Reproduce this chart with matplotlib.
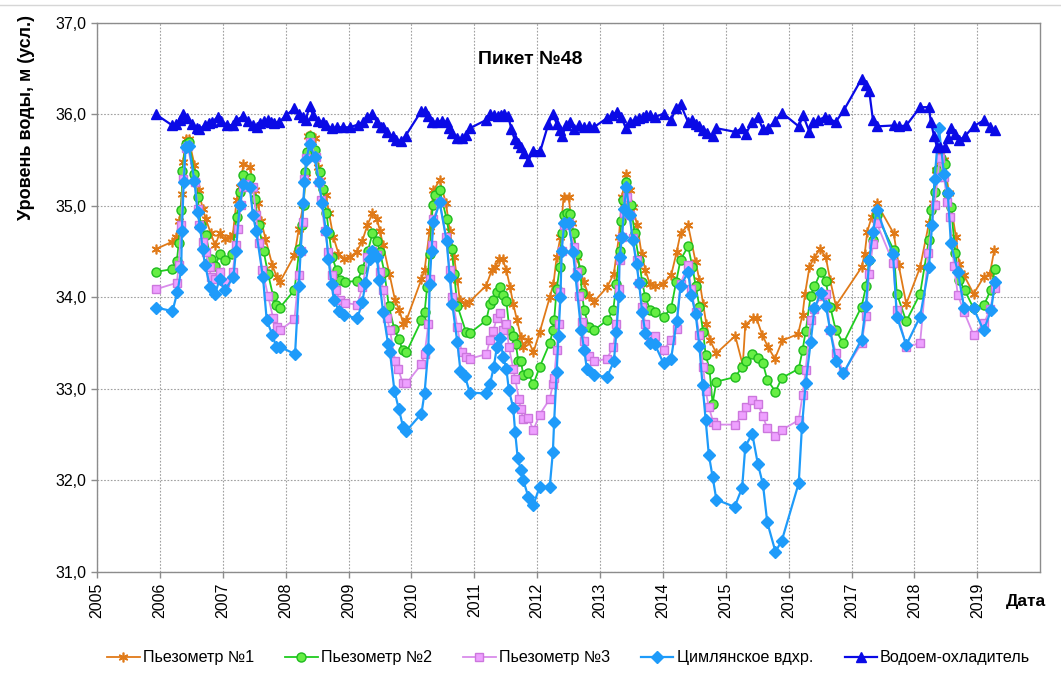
import numpy as np
import matplotlib.pyplot as plt
from matplotlib.lines import Line2D

plt.rcParams['font.family'] = ['Liberation Sans', 'DejaVu Sans']

# Пьезометр №1
t_p1 = [2005.94, 2006.20, 2006.26, 2006.31, 2006.35, 2006.37, 2006.41, 2006.46, 2006.55, 2006.62,
        2006.68, 2006.73, 2006.81, 2006.88, 2006.95, 2007.03, 2007.11, 2007.16, 2007.22, 2007.27,
        2007.33, 2007.43, 2007.51, 2007.56, 2007.61, 2007.68, 2007.79, 2007.86, 2007.91, 2008.14,
        2008.21, 2008.28, 2008.32, 2008.36, 2008.39, 2008.46, 2008.51, 2008.57, 2008.64, 2008.69,
        2008.76, 2008.84, 2008.93, 2009.02, 2009.13, 2009.22, 2009.30, 2009.38, 2009.45, 2009.50,
        2009.55, 2009.65, 2009.74, 2009.81, 2009.87, 2009.92, 2010.16, 2010.21, 2010.29, 2010.35,
        2010.45, 2010.55, 2010.61, 2010.68, 2010.73, 2010.77, 2010.85, 2010.92, 2011.19, 2011.28,
        2011.33, 2011.40, 2011.45, 2011.51, 2011.57, 2011.62, 2011.68, 2011.74, 2011.78, 2011.86,
        2011.94, 2012.04, 2012.20, 2012.26, 2012.31, 2012.37, 2012.42, 2012.50, 2012.55, 2012.63,
        2012.74, 2012.82, 2012.90, 2013.11, 2013.22, 2013.30, 2013.35, 2013.41, 2013.47, 2013.52,
        2013.59, 2013.66, 2013.72, 2013.79, 2013.87, 2014.00, 2014.13, 2014.22, 2014.28, 2014.40,
        2014.52, 2014.58, 2014.64, 2014.69, 2014.75, 2014.85, 2015.15, 2015.27, 2015.31, 2015.43,
        2015.49, 2015.58, 2015.67, 2015.78, 2015.90, 2016.15, 2016.22, 2016.26, 2016.33, 2016.40,
        2016.50, 2016.59, 2016.66, 2016.75, 2017.16, 2017.21, 2017.25, 2017.32, 2017.40, 2017.67,
        2017.75, 2017.87, 2018.09, 2018.23, 2018.29, 2018.34, 2018.40, 2018.47, 2018.55, 2018.66,
        2018.71, 2018.79, 2018.94, 2019.10, 2019.20, 2019.27]
h_p1 = [34.53, 34.61, 34.66, 34.84, 35.13, 35.48, 35.73, 35.73, 35.45, 35.17,
        34.97, 34.86, 34.70, 34.57, 34.70, 34.64, 34.66, 34.68, 35.06, 35.21,
        35.46, 35.43, 35.17, 35.03, 34.84, 34.64, 34.35, 34.22, 34.17, 34.46,
        34.75, 35.01, 35.32, 35.76, 35.78, 35.74, 35.43, 35.28, 35.12, 34.92,
        34.66, 34.48, 34.42, 34.44, 34.50, 34.62, 34.79, 34.92, 34.86, 34.73,
        34.57, 34.26, 33.97, 33.86, 33.71, 33.75, 34.20, 34.30, 34.73, 35.17,
        35.28, 35.03, 34.73, 34.44, 34.19, 33.97, 33.93, 33.95, 34.13, 34.30,
        34.33, 34.42, 34.42, 34.30, 34.11, 33.93, 33.75, 33.57, 33.46, 33.53,
        33.40, 33.62, 34.00, 34.15, 34.44, 34.66, 35.10, 35.10, 34.81, 34.44,
        34.17, 34.02, 33.95, 34.11, 34.26, 34.66, 35.10, 35.35, 35.17, 34.99,
        34.79, 34.48, 34.30, 34.15, 34.13, 34.15, 34.24, 34.50, 34.70, 34.79,
        34.39, 34.19, 33.93, 33.71, 33.53, 33.39, 33.58, 33.26, 33.70, 33.77,
        33.77, 33.59, 33.46, 33.33, 33.53, 33.60, 33.81, 34.04, 34.33, 34.43,
        34.53, 34.44, 34.19, 33.91, 34.33, 34.48, 34.72, 34.88, 35.03, 34.70,
        34.35, 33.93, 34.33, 34.81, 35.03, 35.39, 35.61, 35.50, 35.14, 34.66,
        34.37, 34.24, 34.04, 34.22, 34.26, 34.52]

# Пьезометр №2
t_p2 = [2005.94, 2006.20, 2006.27, 2006.30, 2006.34, 2006.36, 2006.41, 2006.46, 2006.55, 2006.60,
        2006.65, 2006.73, 2006.81, 2006.88, 2006.95, 2007.03, 2007.15, 2007.22, 2007.28, 2007.33,
        2007.43, 2007.51, 2007.57, 2007.65, 2007.72, 2007.80, 2007.85, 2007.91, 2008.14, 2008.22,
        2008.26, 2008.29, 2008.31, 2008.34, 2008.38, 2008.46, 2008.54, 2008.59, 2008.65, 2008.69,
        2008.74, 2008.81, 2008.86, 2008.94, 2009.14, 2009.22, 2009.31, 2009.38, 2009.45, 2009.50,
        2009.57, 2009.64, 2009.73, 2009.80, 2009.86, 2009.92, 2010.16, 2010.21, 2010.25, 2010.29,
        2010.34, 2010.37, 2010.45, 2010.56, 2010.64, 2010.68, 2010.73, 2010.87, 2010.93, 2011.19,
        2011.25, 2011.30, 2011.36, 2011.41, 2011.46, 2011.51, 2011.56, 2011.61, 2011.66, 2011.70,
        2011.74, 2011.78, 2011.86, 2011.94, 2012.04, 2012.20, 2012.25, 2012.27, 2012.31, 2012.36,
        2012.39, 2012.42, 2012.47, 2012.52, 2012.58, 2012.63, 2012.69, 2012.71, 2012.75, 2012.82,
        2012.90, 2013.11, 2013.21, 2013.26, 2013.31, 2013.34, 2013.37, 2013.42, 2013.49, 2013.55,
        2013.62, 2013.67, 2013.72, 2013.80, 2013.87, 2014.01, 2014.13, 2014.21, 2014.28, 2014.40,
        2014.47, 2014.52, 2014.58, 2014.64, 2014.68, 2014.74, 2014.79, 2014.85, 2015.15, 2015.26,
        2015.32, 2015.42, 2015.51, 2015.59, 2015.66, 2015.79, 2015.89, 2016.16, 2016.22, 2016.27,
        2016.35, 2016.41, 2016.51, 2016.59, 2016.66, 2016.75, 2016.87, 2017.16, 2017.23, 2017.28,
        2017.34, 2017.40, 2017.67, 2017.72, 2017.87, 2018.09, 2018.23, 2018.26, 2018.32, 2018.36,
        2018.42, 2018.49, 2018.52, 2018.58, 2018.65, 2018.71, 2018.80, 2018.94, 2019.11, 2019.21,
        2019.28]
h_p2 = [34.28, 34.31, 34.40, 34.59, 34.96, 35.38, 35.68, 35.70, 35.35, 35.10,
        34.79, 34.68, 34.42, 34.34, 34.47, 34.41, 34.48, 34.88, 35.15, 35.34,
        35.31, 35.08, 34.79, 34.51, 34.26, 34.02, 33.92, 33.89, 34.08, 34.53,
        34.79, 35.01, 35.37, 35.59, 35.76, 35.61, 35.37, 35.19, 34.92, 34.70,
        34.44, 34.30, 34.19, 34.17, 34.18, 34.31, 34.51, 34.70, 34.62, 34.50,
        34.28, 33.91, 33.65, 33.55, 33.42, 33.40, 33.75, 33.84, 34.11, 34.48,
        35.01, 35.12, 35.17, 34.86, 34.53, 34.26, 33.91, 33.62, 33.61, 33.75,
        33.93, 33.97, 34.06, 34.11, 34.03, 33.96, 33.64, 33.58, 33.49, 33.31,
        33.31, 33.15, 33.17, 33.05, 33.24, 33.50, 33.64, 33.75, 34.09, 34.33,
        34.70, 34.90, 34.92, 34.91, 34.70, 34.48, 34.30, 34.05, 33.86, 33.68,
        33.64, 33.75, 33.86, 34.15, 34.51, 34.84, 35.06, 35.26, 35.01, 34.70,
        34.41, 34.17, 34.00, 33.86, 33.84, 33.79, 33.88, 34.17, 34.41, 34.56,
        34.33, 34.13, 33.90, 33.62, 33.37, 33.22, 32.84, 33.08, 33.13, 33.24,
        33.31, 33.38, 33.34, 33.28, 33.10, 32.97, 33.12, 33.22, 33.42, 33.63,
        34.02, 34.12, 34.28, 34.18, 33.90, 33.64, 33.50, 33.90, 34.12, 34.41,
        34.63, 34.90, 34.52, 34.04, 33.74, 34.04, 34.63, 34.96, 35.15, 35.39,
        35.52, 35.46, 35.14, 34.99, 34.49, 34.19, 34.08, 33.88, 33.92, 34.08,
        34.31]

# Пьезометр №3
t_p3 = [2005.94, 2006.27, 2006.30, 2006.34, 2006.37, 2006.41, 2006.44, 2006.56, 2006.60, 2006.63,
        2006.69, 2006.73, 2006.79, 2006.81, 2006.88, 2006.95, 2007.04, 2007.16, 2007.21, 2007.24,
        2007.29, 2007.32, 2007.36, 2007.48, 2007.53, 2007.57, 2007.63, 2007.72, 2007.80, 2007.86,
        2007.91, 2008.14, 2008.21, 2008.24, 2008.27, 2008.30, 2008.33, 2008.38, 2008.48, 2008.53,
        2008.57, 2008.62, 2008.68, 2008.73, 2008.80, 2008.86, 2008.95, 2009.14, 2009.22, 2009.30,
        2009.38, 2009.45, 2009.50, 2009.55, 2009.61, 2009.66, 2009.74, 2009.79, 2009.86, 2009.92,
        2010.16, 2010.21, 2010.27, 2010.29, 2010.32, 2010.35, 2010.45, 2010.55, 2010.61, 2010.65,
        2010.73, 2010.80, 2010.87, 2010.93, 2011.19, 2011.25, 2011.30, 2011.36, 2011.41, 2011.46,
        2011.51, 2011.55, 2011.62, 2011.65, 2011.71, 2011.74, 2011.78, 2011.86, 2011.94, 2012.04,
        2012.20, 2012.25, 2012.27, 2012.31, 2012.34, 2012.37, 2012.39, 2012.42, 2012.50, 2012.58,
        2012.63, 2012.66, 2012.71, 2012.75, 2012.82, 2012.90, 2013.11, 2013.21, 2013.26, 2013.30,
        2013.31, 2013.35, 2013.38, 2013.43, 2013.47, 2013.52, 2013.58, 2013.62, 2013.67, 2013.72,
        2013.80, 2013.87, 2014.01, 2014.13, 2014.22, 2014.28, 2014.40, 2014.45, 2014.52, 2014.58,
        2014.64, 2014.68, 2014.73, 2014.80, 2014.85, 2015.15, 2015.26, 2015.32, 2015.42, 2015.51,
        2015.59, 2015.66, 2015.79, 2015.89, 2016.16, 2016.22, 2016.27, 2016.35, 2016.41, 2016.51,
        2016.59, 2016.66, 2016.75, 2016.87, 2017.16, 2017.23, 2017.28, 2017.34, 2017.40, 2017.66,
        2017.72, 2017.87, 2018.09, 2018.22, 2018.32, 2018.37, 2018.40, 2018.47, 2018.52, 2018.56,
        2018.63, 2018.69, 2018.79, 2018.94, 2019.11, 2019.20, 2019.28]
h_p3 = [34.09, 34.16, 34.35, 34.79, 35.30, 35.63, 35.66, 35.26, 34.97, 34.79,
        34.61, 34.50, 34.33, 34.22, 34.20, 34.28, 34.17, 34.28, 34.57, 34.75,
        35.01, 35.21, 35.24, 35.21, 34.90, 34.59, 34.30, 34.02, 33.78, 33.68,
        33.64, 33.76, 34.25, 34.51, 34.82, 35.30, 35.52, 35.70, 35.54, 35.26,
        35.06, 34.73, 34.50, 34.24, 34.08, 33.97, 33.94, 33.92, 34.11, 34.44,
        34.51, 34.46, 34.28, 34.08, 33.78, 33.64, 33.31, 33.22, 33.07, 33.06,
        33.27, 33.38, 33.71, 34.20, 34.57, 34.86, 35.04, 34.66, 34.30, 34.00,
        33.68, 33.40, 33.35, 33.33, 33.38, 33.53, 33.63, 33.78, 33.83, 33.64,
        33.71, 33.46, 33.22, 33.11, 32.89, 32.78, 32.67, 32.68, 32.55, 32.72,
        32.89, 33.05, 33.12, 33.43, 33.71, 34.06, 34.51, 34.79, 34.81, 34.55,
        34.28, 34.02, 33.73, 33.52, 33.36, 33.30, 33.33, 33.46, 33.71, 34.09,
        34.41, 34.66, 34.92, 35.10, 34.90, 34.65, 34.41, 34.16, 33.90, 33.71,
        33.57, 33.58, 33.43, 33.53, 33.66, 34.15, 34.36, 34.09, 33.84, 33.59,
        33.24, 32.98, 32.80, 32.64, 32.61, 32.61, 32.72, 32.80, 32.88, 32.84,
        32.70, 32.57, 32.49, 32.55, 32.66, 32.93, 33.21, 33.75, 33.87, 34.02,
        34.04, 33.64, 33.39, 33.18, 33.50, 33.80, 34.26, 34.58, 34.81, 34.38,
        33.86, 33.46, 33.50, 34.49, 35.01, 35.32, 35.52, 35.32, 35.04, 34.88,
        34.34, 34.03, 33.84, 33.59, 33.72, 33.87, 34.10]

# Цимлянское вдхр.
t_ts = [2005.94, 2006.20, 2006.28, 2006.34, 2006.35, 2006.38, 2006.41, 2006.46, 2006.55, 2006.60,
        2006.64, 2006.68, 2006.72, 2006.80, 2006.88, 2006.95, 2007.03, 2007.17, 2007.21, 2007.27,
        2007.33, 2007.43, 2007.48, 2007.53, 2007.64, 2007.70, 2007.79, 2007.85, 2007.91, 2008.15,
        2008.21, 2008.24, 2008.28, 2008.30, 2008.33, 2008.38, 2008.46, 2008.53, 2008.58, 2008.64,
        2008.68, 2008.73, 2008.77, 2008.85, 2008.93, 2009.14, 2009.22, 2009.27, 2009.34, 2009.38,
        2009.45, 2009.49, 2009.55, 2009.63, 2009.66, 2009.73, 2009.80, 2009.87, 2009.92, 2010.16,
        2010.21, 2010.27, 2010.29, 2010.32, 2010.35, 2010.45, 2010.56, 2010.61, 2010.65, 2010.73,
        2010.78, 2010.85, 2010.93, 2011.19, 2011.25, 2011.31, 2011.36, 2011.41, 2011.46, 2011.51,
        2011.55, 2011.62, 2011.65, 2011.69, 2011.74, 2011.78, 2011.86, 2011.94, 2012.04, 2012.20,
        2012.25, 2012.27, 2012.31, 2012.34, 2012.37, 2012.39, 2012.43, 2012.50, 2012.57, 2012.61,
        2012.70, 2012.75, 2012.79, 2012.90, 2013.11, 2013.22, 2013.26, 2013.30, 2013.31, 2013.35,
        2013.38, 2013.42, 2013.47, 2013.52, 2013.58, 2013.62, 2013.67, 2013.72, 2013.80, 2013.87,
        2014.01, 2014.13, 2014.22, 2014.28, 2014.40, 2014.45, 2014.52, 2014.58, 2014.63, 2014.68,
        2014.73, 2014.79, 2014.85, 2015.14, 2015.26, 2015.31, 2015.42, 2015.51, 2015.59, 2015.66,
        2015.79, 2015.89, 2016.16, 2016.21, 2016.27, 2016.35, 2016.41, 2016.51, 2016.59, 2016.66,
        2016.75, 2016.87, 2017.16, 2017.23, 2017.28, 2017.34, 2017.40, 2017.66, 2017.72, 2017.87,
        2018.09, 2018.23, 2018.28, 2018.32, 2018.39, 2018.47, 2018.53, 2018.58, 2018.69, 2018.79,
        2018.94, 2019.10, 2019.22, 2019.28]
h_ts = [33.89, 33.85, 34.06, 34.31, 34.73, 35.26, 35.65, 35.66, 35.27, 34.93,
        34.77, 34.53, 34.35, 34.11, 34.04, 34.20, 34.08, 34.22, 34.51, 35.01,
        35.24, 35.21, 34.90, 34.73, 34.22, 33.75, 33.59, 33.46, 33.46, 33.38,
        34.12, 34.51, 35.03, 35.26, 35.50, 35.68, 35.54, 35.26, 35.03, 34.73,
        34.42, 34.15, 33.97, 33.85, 33.81, 33.77, 33.95, 34.16, 34.42, 34.51,
        34.44, 34.19, 33.84, 33.49, 33.40, 32.98, 32.78, 32.58, 32.54, 32.73,
        32.96, 33.44, 34.15, 34.51, 34.82, 35.04, 34.62, 34.22, 33.93, 33.51,
        33.20, 33.14, 32.96, 32.95, 33.05, 33.24, 33.46, 33.56, 33.35, 33.22,
        32.99, 32.79, 32.53, 32.25, 32.11, 32.00, 31.82, 31.73, 31.93, 31.93,
        32.31, 32.64, 33.18, 33.58, 34.00, 34.51, 34.81, 34.81, 34.50, 34.23,
        33.64, 33.42, 33.22, 33.15, 33.13, 33.30, 33.62, 34.02, 34.44, 34.66,
        34.97, 35.21, 34.90, 34.63, 34.37, 34.16, 33.84, 33.61, 33.50, 33.49,
        33.28, 33.33, 33.74, 34.12, 34.28, 34.03, 33.82, 33.47, 33.04, 32.66,
        32.28, 32.04, 31.79, 31.71, 31.92, 32.37, 32.51, 32.18, 31.96, 31.54,
        31.22, 31.34, 31.97, 32.58, 33.06, 33.51, 33.88, 34.05, 33.91, 33.64,
        33.31, 33.17, 33.54, 33.91, 34.41, 34.71, 34.96, 34.47, 33.79, 33.48,
        33.79, 34.33, 34.79, 35.30, 35.85, 35.35, 35.14, 34.59, 34.28, 33.89,
        33.88, 33.64, 33.86, 34.17]

# Водоем-охладитель
t_vo = [2005.94, 2006.20, 2006.26, 2006.32, 2006.37, 2006.43, 2006.51, 2006.59, 2006.63, 2006.71,
        2006.78, 2006.83, 2006.92, 2006.97, 2007.06, 2007.16, 2007.21, 2007.33, 2007.40, 2007.48,
        2007.55, 2007.59, 2007.65, 2007.72, 2007.77, 2007.82, 2007.90, 2008.01, 2008.14, 2008.21,
        2008.28, 2008.32, 2008.38, 2008.44, 2008.52, 2008.59, 2008.65, 2008.73, 2008.81, 2008.91,
        2009.02, 2009.15, 2009.23, 2009.30, 2009.38, 2009.45, 2009.51, 2009.55, 2009.61, 2009.70,
        2009.76, 2009.84, 2009.91, 2010.16, 2010.21, 2010.27, 2010.32, 2010.40, 2010.48, 2010.56,
        2010.60, 2010.65, 2010.73, 2010.80, 2010.87, 2010.93, 2011.19, 2011.25, 2011.31, 2011.37,
        2011.42, 2011.47, 2011.54, 2011.59, 2011.64, 2011.69, 2011.74, 2011.79, 2011.86, 2011.93,
        2012.05, 2012.18, 2012.25, 2012.31, 2012.36, 2012.40, 2012.46, 2012.53, 2012.59, 2012.66,
        2012.74, 2012.82, 2012.90, 2013.11, 2013.19, 2013.27, 2013.34, 2013.41, 2013.47, 2013.55,
        2013.62, 2013.68, 2013.73, 2013.80, 2013.87, 2014.01, 2014.13, 2014.21, 2014.28, 2014.40,
        2014.47, 2014.52, 2014.58, 2014.64, 2014.70, 2014.79, 2014.85, 2015.15, 2015.26, 2015.32,
        2015.42, 2015.51, 2015.59, 2015.67, 2015.79, 2015.89, 2016.16, 2016.23, 2016.33, 2016.39,
        2016.47, 2016.57, 2016.64, 2016.75, 2016.88, 2017.16, 2017.23, 2017.28, 2017.34, 2017.40,
        2017.67, 2017.75, 2017.87, 2018.09, 2018.23, 2018.26, 2018.31, 2018.36, 2018.41, 2018.49,
        2018.53, 2018.58, 2018.65, 2018.71, 2018.80, 2018.94, 2019.11, 2019.20, 2019.28]
h_vo = [36.00, 35.88, 35.90, 35.94, 36.00, 35.96, 35.90, 35.85, 35.84, 35.88,
        35.91, 35.92, 35.97, 35.93, 35.89, 35.88, 35.94, 35.98, 35.93, 35.89,
        35.86, 35.91, 35.93, 35.94, 35.92, 35.91, 35.92, 35.99, 36.07, 36.00,
        35.97, 35.94, 36.09, 35.99, 35.93, 35.92, 35.88, 35.85, 35.86, 35.86,
        35.86, 35.89, 35.92, 35.97, 36.01, 35.92, 35.86, 35.86, 35.81, 35.76,
        35.72, 35.71, 35.77, 36.04, 36.04, 35.98, 35.92, 35.92, 35.93, 35.92,
        35.85, 35.80, 35.74, 35.74, 35.78, 35.85, 35.94, 36.00, 35.99, 35.98,
        35.99, 36.01, 35.98, 35.84, 35.73, 35.69, 35.64, 35.58, 35.49, 35.60,
        35.60, 35.90, 36.00, 35.90, 35.83, 35.77, 35.88, 35.92, 35.84, 35.88,
        35.86, 35.87, 35.86, 35.96, 35.99, 36.03, 35.97, 35.85, 35.92, 35.94,
        35.96, 35.97, 35.99, 35.99, 35.97, 36.01, 35.94, 36.07, 36.11, 35.92,
        35.94, 35.90, 35.87, 35.83, 35.80, 35.77, 35.85, 35.81, 35.85, 35.79,
        35.92, 35.97, 35.84, 35.85, 35.93, 36.02, 35.87, 35.99, 35.81, 35.92,
        35.94, 35.97, 35.95, 35.92, 36.05, 36.39, 36.32, 36.26, 35.94, 35.87,
        35.88, 35.87, 35.88, 36.08, 36.08, 35.92, 35.77, 35.64, 35.64, 35.64,
        35.74, 35.85, 35.79, 35.72, 35.76, 35.87, 35.94, 35.86, 35.83]

years = list(range(2005, 2020))

fig = plt.figure(figsize=(10.61, 6.89), dpi=100)
ax = fig.add_axes([0.0914, 0.170, 0.889, 0.7966])

ax.plot(t_p1, h_p1, color='#E07A18', lw=1.3, marker=(6, 2, 0), ms=7, mew=1.2,
        label='Пьезометр №1', zorder=3)
ax.plot(t_p2, h_p2, color='#1FCC1F', lw=1.3, marker='o', ms=6.5, mfc='#66EE44',
        mec='#1FBB1F', mew=1.0, label='Пьезометр №2', zorder=4)
ax.plot(t_p3, h_p3, color='#D98CEB', lw=1.3, marker='s', ms=6, mfc='#EEA0FF',
        mec='#CC77DD', mew=1.0, label='Пьезометр №3', zorder=5)
ax.plot(t_ts, h_ts, color='#1E9BFA', lw=1.6, marker='D', ms=6, mfc='#1E9BFA',
        mec='#1E9BFA', label='Цимлянское вдхр.', zorder=6)
ax.plot(t_vo, h_vo, color='#0A0AE6', lw=1.6, marker='^', ms=7, mfc='#0A0AE6',
        mec='#0A0AE6', label='Водоем-охладитель', zorder=7)

ax.set_xlim(2005, 2020)
ax.set_ylim(31, 37)
ax.set_xticks(years)
ax.set_xticklabels([str(y) for y in years], rotation=90, fontsize=11.5)
ax.set_yticks(np.arange(31, 37.5, 1))
ax.set_yticklabels([f'{v:.1f}'.replace('.', ',') for v in np.arange(31, 37.5, 1)], fontsize=11.5)
ax.grid(True, color='#A0A0A0', linestyle=(0, (1.5, 1.5)), linewidth=0.8)
ax.set_axisbelow(True)
for s in ax.spines.values():
    s.set_color('#8C8C8C')
    s.set_linewidth(1.0)
ax.tick_params(axis='both', color='#8C8C8C', length=4, width=1.0)

ax.text(0.459, 0.933, 'Пикет №48', transform=ax.transAxes, ha='center', va='center',
        fontsize=14, fontweight='bold')
ax.set_ylabel('Уровень воды, м (усл.)', fontsize=13, fontweight='bold')
ax.yaxis.set_label_coords(-0.066, 0.827)
fig.text(0.986, 0.127, 'Дата', ha='right', va='center', fontsize=12.5, fontweight='bold')

fig.legend(loc='center', bbox_to_anchor=(0.536, 0.045), ncol=5, frameon=False,
           fontsize=11.6, handlelength=2.0, handletextpad=0.2, columnspacing=1.95)

fig.add_artist(Line2D([0, 1], [1 - 5 / 689, 1 - 5 / 689], transform=fig.transFigure,
                      color='#D6D6D6', lw=1.0))

fig.savefig('out.png', dpi=100)
